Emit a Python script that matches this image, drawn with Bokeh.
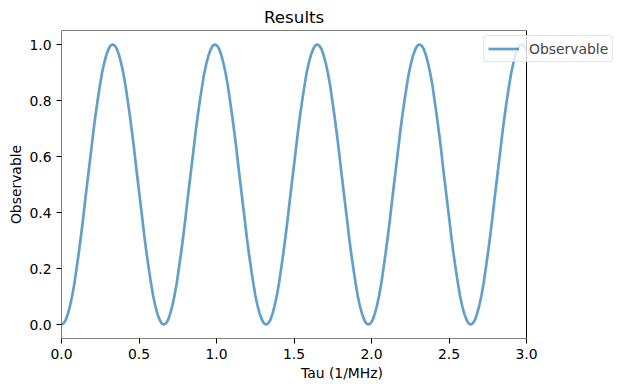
from bokeh.plotting import figure
from bokeh.models import Range1d, FixedTicker, PrintfTickFormatter, Legend, LegendItem, BoxAnnotation
from bokeh.embed import file_html
from bokeh.resources import INLINE

tau = [
    0.0, 0.014, 0.028, 0.041, 0.055, 0.069, 0.083, 0.096, 0.11, 0.124, 0.138, 0.151,
    0.165, 0.179, 0.193, 0.206, 0.22, 0.234, 0.248, 0.261, 0.275, 0.289, 0.303, 0.316,
    0.33, 0.344, 0.358, 0.371, 0.385, 0.399, 0.413, 0.426, 0.44, 0.454, 0.468, 0.481,
    0.495, 0.509, 0.523, 0.536, 0.55, 0.564, 0.578, 0.591, 0.605, 0.619, 0.633, 0.646,
    0.66, 0.674, 0.688, 0.701, 0.715, 0.729, 0.743, 0.756, 0.77, 0.784, 0.798, 0.811,
    0.825, 0.839, 0.853, 0.866, 0.88, 0.894, 0.908, 0.921, 0.935, 0.949, 0.963, 0.976,
    0.99, 1.004, 1.018, 1.031, 1.045, 1.059, 1.073, 1.086, 1.1, 1.114, 1.128, 1.141,
    1.155, 1.169, 1.183, 1.196, 1.21, 1.224, 1.238, 1.251, 1.265, 1.279, 1.293, 1.306,
    1.32, 1.334, 1.348, 1.361, 1.375, 1.389, 1.403, 1.416, 1.43, 1.444, 1.458, 1.471,
    1.485, 1.499, 1.513, 1.526, 1.54, 1.554, 1.568, 1.581, 1.595, 1.609, 1.623, 1.636,
    1.65, 1.664, 1.678, 1.691, 1.705, 1.719, 1.733, 1.746, 1.76, 1.774, 1.788, 1.801,
    1.815, 1.829, 1.843, 1.856, 1.87, 1.884, 1.898, 1.911, 1.925, 1.939, 1.953, 1.966,
    1.98, 1.994, 2.008, 2.021, 2.035, 2.049, 2.063, 2.076, 2.09, 2.104, 2.118, 2.131,
    2.145, 2.159, 2.173, 2.186, 2.2, 2.214, 2.228, 2.241, 2.255, 2.269, 2.283, 2.296,
    2.31, 2.324, 2.338, 2.351, 2.365, 2.379, 2.393, 2.406, 2.42, 2.434, 2.448, 2.461,
    2.475, 2.489, 2.503, 2.516, 2.53, 2.544, 2.558, 2.571, 2.585, 2.599, 2.613, 2.626,
    2.64, 2.654, 2.668, 2.681, 2.695, 2.709, 2.723, 2.736, 2.75, 2.764, 2.778, 2.791,
    2.805, 2.819, 2.833, 2.846, 2.86, 2.874, 2.888, 2.901, 2.915, 2.929, 2.943, 2.956,
    2.97, 2.985, 3.0]

observable = [
    0.0, 0.004, 0.017, 0.038, 0.067, 0.103, 0.146, 0.196, 0.25, 0.309, 0.371, 0.435,
    0.5, 0.565, 0.629, 0.691, 0.75, 0.804, 0.854, 0.897, 0.933, 0.962, 0.983, 0.996,
    1.0, 0.996, 0.983, 0.962, 0.933, 0.897, 0.854, 0.804, 0.75, 0.691, 0.629, 0.565,
    0.5, 0.435, 0.371, 0.309, 0.25, 0.196, 0.146, 0.103, 0.067, 0.038, 0.017, 0.004,
    0.0, 0.004, 0.017, 0.038, 0.067, 0.103, 0.146, 0.196, 0.25, 0.309, 0.371, 0.435,
    0.5, 0.565, 0.629, 0.691, 0.75, 0.804, 0.854, 0.897, 0.933, 0.962, 0.983, 0.996,
    1.0, 0.996, 0.983, 0.962, 0.933, 0.897, 0.854, 0.804, 0.75, 0.691, 0.629, 0.565,
    0.5, 0.435, 0.371, 0.309, 0.25, 0.196, 0.146, 0.103, 0.067, 0.038, 0.017, 0.004,
    0.0, 0.004, 0.017, 0.038, 0.067, 0.103, 0.146, 0.196, 0.25, 0.309, 0.371, 0.435,
    0.5, 0.565, 0.629, 0.691, 0.75, 0.804, 0.854, 0.897, 0.933, 0.962, 0.983, 0.996,
    1.0, 0.996, 0.983, 0.962, 0.933, 0.897, 0.854, 0.804, 0.75, 0.691, 0.629, 0.565,
    0.5, 0.435, 0.371, 0.309, 0.25, 0.196, 0.146, 0.103, 0.067, 0.038, 0.017, 0.004,
    0.0, 0.004, 0.017, 0.038, 0.067, 0.103, 0.146, 0.196, 0.25, 0.309, 0.371, 0.435,
    0.5, 0.565, 0.629, 0.691, 0.75, 0.804, 0.854, 0.897, 0.933, 0.962, 0.983, 0.996,
    1.0, 0.996, 0.983, 0.962, 0.933, 0.897, 0.854, 0.804, 0.75, 0.691, 0.629, 0.565,
    0.5, 0.435, 0.371, 0.309, 0.25, 0.196, 0.146, 0.103, 0.067, 0.038, 0.017, 0.004,
    0.0, 0.004, 0.017, 0.038, 0.067, 0.103, 0.146, 0.196, 0.25, 0.309, 0.371, 0.435,
    0.5, 0.565, 0.629, 0.691, 0.75, 0.804, 0.854, 0.897, 0.933, 0.962, 0.983, 0.996,
    1.0, 0.995, 0.98]

x_ticks = [0.0, 0.5, 1.0, 1.5, 2.0, 2.5, 3.0]
y_ticks = [0.0, 0.2, 0.4, 0.6, 0.8, 1.0]
x_min, x_max = 0.0, 3.0
y_min, y_max = -0.05, 1.05

FONT = "DejaVu Sans"
W, H = 622, 391
LEFT, TOP, FRAME_W, FRAME_H = 61, 30, 465, 308
PX_PER_UNIT = FRAME_W / (x_max - x_min)
EXTRA_PX = W - LEFT - FRAME_W  # room right of the axes box for the legend

p = figure(width=W, height=H, output_backend="svg", toolbar_location=None,
           x_range=Range1d(x_min, x_max + EXTRA_PX / PX_PER_UNIT),
           y_range=Range1d(y_min, y_max),
           min_border_left=LEFT, min_border_right=0, min_border_top=TOP,
           min_border_bottom=H - TOP - FRAME_H,
           title="Results")

# centre the title over the axes box (not over the wider frame)
p.title.align = "left"
p.title.offset = FRAME_W / 2 - 30
p.title.text_font = FONT
p.title.text_font_size = "16.7px"
p.title.text_font_style = "normal"
p.title.text_color = "black"
p.title.standoff = 7

r = p.line(tau, observable, line_color="#1f77b4", line_alpha=0.7, line_width=2.7)

p.xgrid.visible = False
p.ygrid.visible = False
p.outline_line_color = None

spines = BoxAnnotation(left=x_min, right=x_max, fill_alpha=0,
                       line_color="black", line_width=1, line_alpha=1)
p.add_layout(spines)

for ax in (p.xaxis[0], p.yaxis[0]):
    ax.axis_line_color = None
    ax.major_tick_in = 0
    ax.major_tick_out = 5
    ax.minor_tick_line_color = None
    ax.major_tick_line_color = "black"
    ax.major_label_text_font = FONT
    ax.major_label_text_font_size = "13.9px"
    ax.major_label_text_color = "black"
    ax.axis_label_text_font = FONT
    ax.axis_label_text_font_size = "13.9px"
    ax.axis_label_text_font_style = "normal"
    ax.axis_label_text_color = "black"
    ax.formatter = PrintfTickFormatter(format="%.1f")

p.xaxis[0].ticker = FixedTicker(ticks=x_ticks)
p.yaxis[0].ticker = FixedTicker(ticks=y_ticks)
p.xaxis[0].axis_label = "Tau (1/MHz)"
p.yaxis[0].axis_label = "Observable"
p.xaxis[0].major_label_standoff = 5
p.yaxis[0].major_label_standoff = 5
p.xaxis[0].axis_label_standoff = 3
p.yaxis[0].axis_label_standoff = 2

legend = Legend(items=[LegendItem(label="Observable", renderers=[r])],
                location=(422, 276))
legend.label_text_font = FONT
legend.label_text_font_size = "13.9px"
legend.glyph_width = 31
legend.glyph_height = 17
legend.label_standoff = 10
legend.padding = 4
legend.margin = 0
legend.spacing = 0
legend.border_line_color = "#cccccc"
legend.border_line_width = 1
legend.background_fill_color = "white"
legend.background_fill_alpha = 0.8
if "border_radius" in Legend.properties():
    legend.border_radius = 3
p.add_layout(legend, "center")

open("out.html", "w").write(file_html(p, INLINE))
